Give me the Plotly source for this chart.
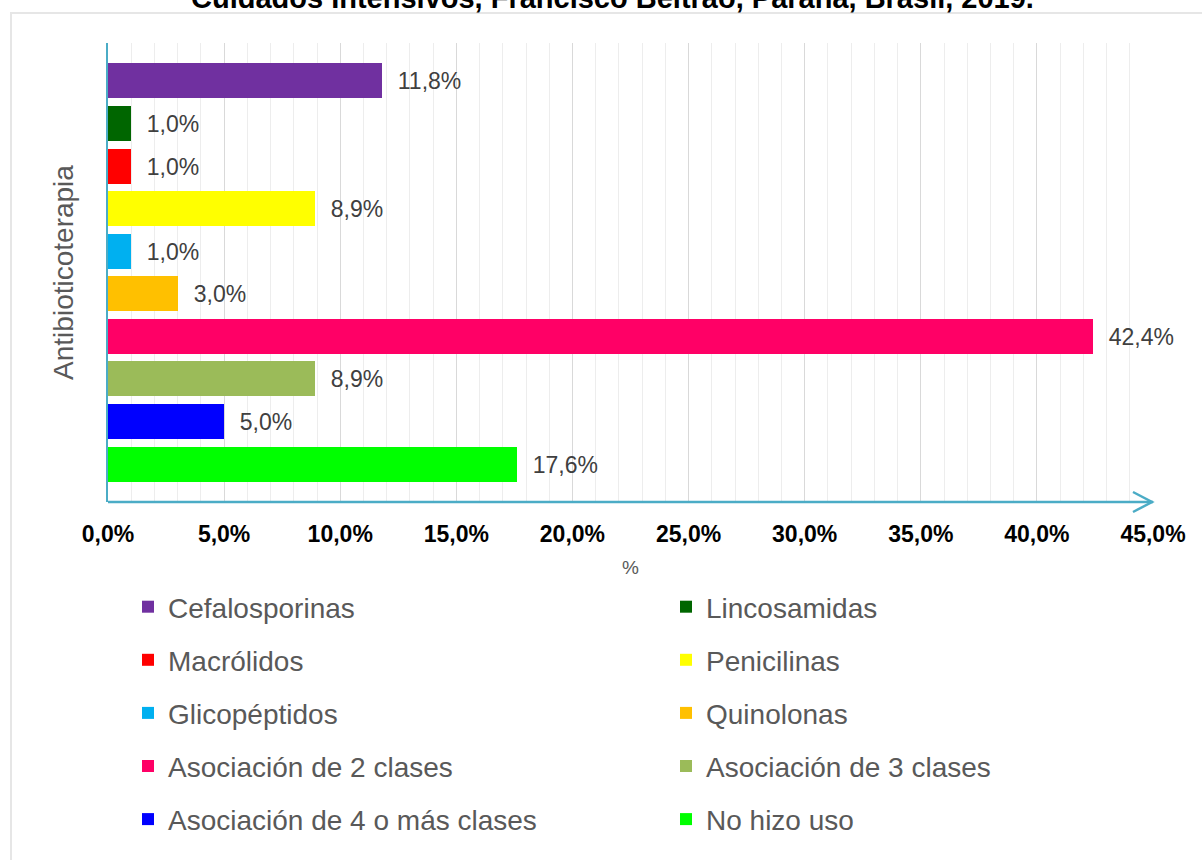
import plotly.graph_objects as go

# ---- data ----
series = ["Cefalosporinas", "Lincosamidas", "Macrólidos", "Penicilinas", "Glicopéptidos",
          "Quinolonas", "Asociación de 2 clases", "Asociación de 3 clases",
          "Asociación de 4 o más clases", "No hizo uso"]
values = [11.8, 1.0, 1.0, 8.9, 1.0, 3.0, 42.4, 8.9, 5.0, 17.6]
colors = ["#7030A0", "#006600", "#FF0000", "#FFFF00", "#00B0F0",
          "#FFC000", "#FF0066", "#9BBB59", "#0000FF", "#00FF00"]
legend_col = ["legend", "legend2", "legend", "legend2", "legend",
              "legend2", "legend", "legend2", "legend", "legend2"]
tick_vals = [0, 5, 10, 15, 20, 25, 30, 35, 40, 45]
tick_text = ["0,0%", "5,0%", "10,0%", "15,0%", "20,0%", "25,0%", "30,0%", "35,0%", "40,0%", "45,0%"]
title_text = "Cuidados Intensivos, Francisco Beltrão, Paraná, Brasil, 2019."
y_title = "Antibioticoterapia"
x_title = "%"

FONT = "Arial, 'Liberation Sans', sans-serif"
AXIS_COLOR = "#4BACC6"

# plot-area pixel geometry
W, H = 1202, 860
L, R, T, B = 108, 1153, 43, 502
pw, ph = R - L, B - T

def px_x(p):
    return (p - L) / pw

def px_y(p):
    return (B - p) / ph

fig = go.Figure()
for i, (s, v, c, lg) in enumerate(zip(series, values, colors, legend_col)):
    fig.add_trace(go.Bar(
        y=[s], x=[v], orientation="h", name=s,
        marker=dict(color=c, line=dict(width=0)),
        width=0.82,
        text=[v], texttemplate="\u00a0\u00a0%{x:.1f}%", textposition="outside",
        textfont=dict(family=FONT, size=23, color="#404040"),
        constraintext="none", cliponaxis=False,
        legend=lg, legendgroup=s,
    ))

legend_common = dict(
    orientation="v", xanchor="left", yanchor="top",
    font=dict(family=FONT, size=28, color="#595959"),
    bgcolor="rgba(0,0,0,0)", tracegroupgap=13.7, itemclick=False,
)

fig.update_layout(
    width=W, height=H,
    margin=dict(l=L, r=W - R, t=T, b=H - B, pad=0),
    paper_bgcolor="white", plot_bgcolor="white",
    separators=", ",
    barmode="overlay",
    bargap=0,
    showlegend=True,
    legend=dict(x=px_x(128), y=px_y(582), **legend_common),
    legend2=dict(x=px_x(666), y=px_y(582), **legend_common),
    xaxis=dict(
        range=[0, 45], tickvals=tick_vals, ticktext=tick_text,
        tickfont=dict(family=FONT, size=23, color="black", weight="bold"),
        showline=False, zeroline=False,
        showgrid=True, gridcolor="#D9D9D9", gridwidth=1,
        minor=dict(dtick=1, tick0=0, showgrid=True, gridcolor="#EDEDED", gridwidth=1),
        ticks="", ticklabelstandoff=16,
        title=dict(text=x_title, font=dict(family=FONT, size=19, color="#595959"), standoff=14),
        fixedrange=True,
    ),
    yaxis=dict(
        type="category", categoryorder="array", categoryarray=series,
        range=[9.89, -0.89], showticklabels=False, ticks="",
        showgrid=False, zeroline=False,
        showline=True, linecolor=AXIS_COLOR, linewidth=2,
        title=dict(text=y_title, font=dict(family=FONT, size=28, color="#595959"), standoff=24),
        fixedrange=True,
    ),
)

# chart frame (light border, partly outside the visible page)
fig.add_shape(type="rect", xref="paper", yref="paper",
              x0=px_x(11), x1=px_x(1230), y0=px_y(890), y1=px_y(13),
              line=dict(color="#E6E6E6", width=2), fillcolor="rgba(0,0,0,0)", layer="below")

# x-axis line with open arrow head
fig.add_shape(type="line", xref="x", yref="paper", x0=0, x1=45, y0=0, y1=0,
              line=dict(color=AXIS_COLOR, width=2.5))
fig.add_shape(type="path", xref="paper", yref="paper",
              path=f"M {px_x(1133)},{px_y(492)} L {px_x(1152)},{px_y(502)} L {px_x(1133)},{px_y(512)}",
              line=dict(color=AXIS_COLOR, width=2.5))

# title (cut at the top of the page, as in the reference)
fig.add_annotation(text=f"<b>{title_text}</b>", xref="paper", yref="paper",
                   x=px_x(612), y=px_y(-2), xanchor="center", yanchor="middle",
                   showarrow=False, font=dict(family=FONT, size=29, color="black"))

fig.write_html("out.html", config={"displayModeBar": False},
               post_script="document.body.style.margin='0';document.body.style.overflow='hidden';")
